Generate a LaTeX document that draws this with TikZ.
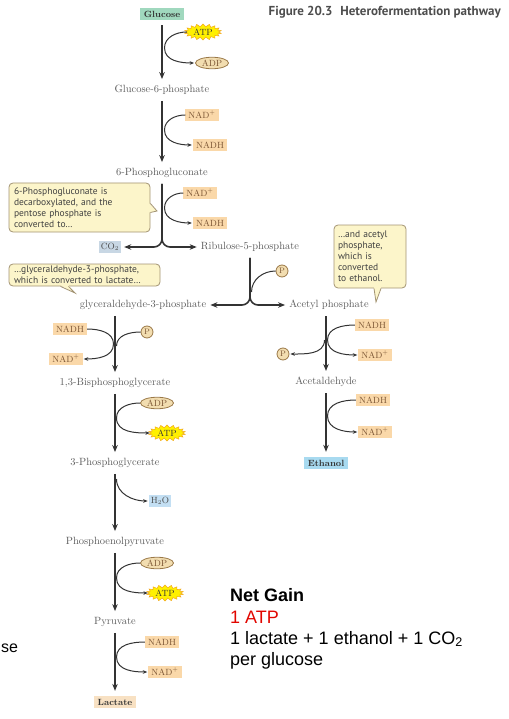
\documentclass[tikz,border=0pt]{standalone}
\usepackage{fontspec}
\newfontfamily\notefont{PT Sans}
\newfontfamily\slidefont{Liberation Sans}
\usetikzlibrary{arrows.meta,shapes.geometric,shapes.symbols}

\definecolor{ink}{HTML}{333333}
\definecolor{metgray}{HTML}{5C5C5C}
\definecolor{peach}{HTML}{FAD8A9}
\definecolor{peachtext}{HTML}{7A5433}
\definecolor{tanfill}{HTML}{F2DDB0}
\definecolor{tanline}{HTML}{9A7847}
\definecolor{atpyellow}{HTML}{FFF000}
\definecolor{atporange}{HTML}{F2A81D}
\definecolor{mint}{HTML}{A0D8BE}
\definecolor{co2blue}{HTML}{C8D7E4}
\definecolor{h2oblue}{HTML}{C3DFF3}
\definecolor{ethblue}{HTML}{A8DAF0}
\definecolor{lactpeach}{HTML}{F8E1C3}
\definecolor{callfill}{HTML}{FCF5CA}
\definecolor{callline}{HTML}{A39473}
\definecolor{titlegray}{HTML}{4D4D4D}
\definecolor{netred}{HTML}{E10600}

\tikzset{
  met/.style={font=\fontsize{10.5}{12}\selectfont, text=metgray, inner sep=1pt},
  endbox/.style={font=\bfseries\fontsize{9}{10}\selectfont, text=black!80, inner xsep=3.5pt, inner ysep=2.8pt},
  cof/.style={fill=peach, text=peachtext, font=\fontsize{9}{10}\selectfont, inner xsep=3pt, inner ysep=2.5pt, text height=6.4pt, text depth=0pt},
  smallbox/.style={text=metgray!80!black, font=\fontsize{9}{10}\selectfont, inner xsep=2pt, inner ysep=2.5pt, text height=6.4pt, text depth=1pt},
  atpstar/.style={starburst, starburst points=18, starburst point height=2.8pt, random starburst=0, fill=atpyellow, draw=atporange, line width=0.5pt, text=black!80, font=\fontsize{9}{10}\selectfont, inner xsep=1.5pt, inner ysep=0.5pt},
  adpoval/.style={ellipse, fill=tanfill, draw=tanline, line width=0.8pt, text=peachtext, font=\fontsize{9}{10}\selectfont, inner sep=0pt, minimum width=33pt, minimum height=11.5pt},
  pgroup/.style={circle, fill=tanfill, draw=tanline, line width=0.8pt, text=peachtext, font=\fontsize{8}{9}\selectfont, inner sep=0pt, minimum size=12pt},
  mainarrow/.style={draw=ink, line width=1.6pt, -{Stealth[length=7pt,width=5.5pt]}, shorten <=5pt, shorten >=5pt},
  splitarrow/.style={draw=ink, line width=1.6pt, -{Stealth[length=7pt,width=5.5pt]}, rounded corners=8pt, shorten <=5pt, shorten >=3pt},
  sideline/.style={draw=ink, line width=1pt},
  sidearrow/.style={draw=ink, line width=1pt, -{Stealth[length=4.5pt,width=3.6pt]}, shorten >=1pt},
  note/.style={draw=callline, line width=0.8pt, fill=callfill, rounded corners=4pt, font=\notefont\fontsize{9.5}{11}\selectfont, text=black!75, align=left, inner xsep=5pt, inner ysep=3pt},
  notetail/.style={draw=callline, line width=0.8pt},
  slide/.style={font=\slidefont\fontsize{18}{21}\selectfont, anchor=base west, inner sep=0pt},
}

\begin{document}
\begin{tikzpicture}[x=1pt,y=-1pt]
\useasboundingbox (0,0) rectangle (508,719);

% heading
\node[anchor=east, font=\notefont\bfseries\fontsize{13}{15}\selectfont, text=titlegray, inner sep=0pt] (title) at (501,12) {Figure 20.3\hspace{0.6em}Heterofermentation pathway};

% main trunk
\node[endbox, fill=mint] (glc) at (162,14) {Glucose};
\node[met] (g6p) at (162,90) {Glucose-6-phosphate};
\node[met] (pg6) at (162,173) {6-Phosphogluconate};
\node[smallbox, fill=co2blue] (co2) at (110,247) {CO\textsubscript{2}};
\node[met] (ru5p) at (250,247) {Ribulose-5-phosphate};
\node[met] (g3p) at (143,305) {glyceraldehyde-3-phosphate};
\node[met] (acp) at (329,305) {Acetyl phosphate};

% lactate branch
\node[met] (bpg) at (115,383) {1,3-Bisphosphoglycerate};
\node[met] (p3g) at (115,463) {3-Phosphoglycerate};
\node[met] (pep) at (115,542) {Phosphoenolpyruvate};
\node[met] (pyr) at (115,622) {Pyruvate};
\node[endbox, fill=lactpeach] (lac) at (115,702) {Lactate};

% ethanol branch
\node[met] (acald) at (326,382) {Acetaldehyde};
\node[endbox, fill=ethblue] (eth) at (326,463) {Ethanol};

% pathway arrows
\draw[mainarrow] (glc) -- (g6p);
\draw[mainarrow] (g6p) -- (pg6);
\draw[splitarrow] (pg6.south) |- (co2.east);
\draw[splitarrow] (pg6.south) |- (ru5p.west);
\draw[splitarrow] (ru5p.south) |- (g3p.east);
\draw[splitarrow] (ru5p.south) |- (acp.west);
\draw[mainarrow] (g3p.south -| bpg.north) -- (bpg);
\draw[mainarrow] (bpg) -- (p3g);
\draw[mainarrow] (p3g) -- (pep);
\draw[mainarrow] (pep) -- (pyr);
\draw[mainarrow] (pyr) -- (lac);
\draw[mainarrow] (acp.south -| acald.north) -- (acald);
\draw[mainarrow] (acald) -- (eth);

% glucose -> glucose-6-phosphate
\node[atpstar] (atp1) at (203,32) {ATP};
\node[adpoval] (adp1) at (212,63) {ADP};
\coordinate (k1) at (164.5,48);
\draw[sidearrow] (atp1.west) to[out=180,in=90] (k1) to[out=-90,in=180] (adp1.west);

% glucose-6-phosphate -> 6-phosphogluconate
\node[cof] (nadp2) at (202,115) {NAD\textsuperscript{+}};
\node[cof] (nadh2) at (210,145) {NADH};
\coordinate (k2) at (164.5,130);
\draw[sidearrow] (nadp2.west) to[out=180,in=90] (k2) to[out=-90,in=180] (nadh2.west);

% 6-phosphogluconate -> ribulose-5-phosphate + CO2
\node[cof] (nadp3) at (200,193) {NAD\textsuperscript{+}};
\node[cof] (nadh3) at (210,223) {NADH};
\coordinate (k3) at (164.5,208);
\draw[sidearrow] (nadp3.west) to[out=180,in=90] (k3) to[out=-90,in=180] (nadh3.west);

% phosphate joining the phosphoketolase split
\node[pgroup] (p1) at (282,271) {P};
\coordinate (k4) at (251.5,292);
\draw[sideline] (p1.west) to[out=180,in=90] (k4);

% glyceraldehyde-3-phosphate -> 1,3-bisphosphoglycerate
\node[cof] (nadh4) at (70,329) {NADH};
\node[cof] (nadp4) at (66,359) {NAD\textsuperscript{+}};
\node[pgroup] (p2) at (147,332) {P};
\coordinate (k5) at (113.5,344);
\coordinate (k6) at (116.5,346);
\draw[sidearrow] (nadh4.east) to[out=0,in=90] (k5) to[out=-90,in=0] (nadp4.east);
\draw[sideline] (p2.west) to[out=180,in=90] (k6);

% 1,3-bisphosphoglycerate -> 3-phosphoglycerate
\node[adpoval] (adp5) at (157,403) {ADP};
\node[atpstar] (atp5) at (167,433) {ATP};
\coordinate (k7) at (116.5,418);
\draw[sidearrow] (adp5.west) to[out=180,in=90] (k7) to[out=-90,in=180] (atp5.west);

% 3-phosphoglycerate -> phosphoenolpyruvate
\node[smallbox, fill=h2oblue] (h2o) at (160,501) {H\textsubscript{2}O};
\coordinate (k8) at (116.5,479);
\draw[sidearrow] (k8) to[out=-90,in=180] (h2o.west);

% phosphoenolpyruvate -> pyruvate
\node[adpoval] (adp6) at (157,563) {ADP};
\node[atpstar] (atp6) at (165,593) {ATP};
\coordinate (k9) at (116.5,578);
\draw[sidearrow] (adp6.west) to[out=180,in=90] (k9) to[out=-90,in=180] (atp6.west);

% pyruvate -> lactate
\node[cof] (nadh7) at (162,642) {NADH};
\node[cof] (nadp7) at (165,672) {NAD\textsuperscript{+}};
\coordinate (k10) at (116.5,657);
\draw[sidearrow] (nadh7.west) to[out=180,in=90] (k10) to[out=-90,in=180] (nadp7.west);

% acetyl phosphate -> acetaldehyde
\node[cof] (nadh8) at (372,325) {NADH};
\node[cof] (nadp8) at (375,355) {NAD\textsuperscript{+}};
\node[pgroup] (p3) at (283,354) {P};
\coordinate (k11) at (327.5,340);
\coordinate (k12) at (324.5,340);
\draw[sidearrow] (nadh8.west) to[out=180,in=90] (k11) to[out=-90,in=180] (nadp8.west);
\draw[sidearrow] (k12) to[out=-90,in=0] (p3.east);

% acetaldehyde -> ethanol
\node[cof] (nadh9) at (373,400) {NADH};
\node[cof] (nadp9) at (375,432) {NAD\textsuperscript{+}};
\coordinate (k13) at (327.5,416);
\draw[sidearrow] (nadh9.west) to[out=180,in=90] (k13) to[out=-90,in=180] (nadp9.west);

% explanatory notes
\node[note, text width=131pt, minimum height=49pt] (cb1) at (79.5,207.5)
  {6-Phosphogluconate is\\decarboxylated, and the\\pentose phosphate is\\converted to…};
\coordinate (cb1tip) at (157,211);
\fill[callfill] ([shift={(-1.2pt,4pt)}]cb1.east) -- (cb1tip) -- ([shift={(-1.2pt,-5pt)}]cb1.east) -- cycle;
\draw[notetail] ([yshift=4pt]cb1.east) -- (cb1tip) -- ([yshift=-5pt]cb1.east);

\node[note, text width=141pt, minimum height=22pt, inner ysep=1pt] (cb2) at (84.5,275)
  {…glyceraldehyde-3-phosphate,\\which is converted to lactate…};
\coordinate (cb2tip) at (75,293);
\fill[callfill] ([shift={(-24pt,1.2pt)}]cb2.south) -- (cb2tip) -- ([shift={(-16pt,1.2pt)}]cb2.south) -- cycle;
\draw[notetail] ([xshift=-24pt]cb2.south) -- (cb2tip) -- ([xshift=-16pt]cb2.south);

\node[note, text width=64pt, minimum height=63pt, inner xsep=4pt] (cb3) at (370,256.5)
  {…and acetyl\\phosphate,\\which is\\converted\\to ethanol.};
\coordinate (cb3tip) at (376,302);
\fill[callfill] ([shift={(4pt,1.2pt)}]cb3.south) -- (cb3tip) -- ([shift={(11pt,1.2pt)}]cb3.south) -- cycle;
\draw[notetail] ([xshift=4pt]cb3.south) -- (cb3tip) -- ([xshift=11pt]cb3.south);

% summary
\node[slide, font=\slidefont\bfseries\fontsize{18}{21}\selectfont] (ng1) at (230,601) {Net Gain};
\node[slide, text=netred] (ng2) at (230,623) {1 ATP};
\node[slide] (ng3) at (230,644) {1 lactate + 1 ethanol + 1 CO\textsubscript{2}};
\node[slide] (ng4) at (230,665) {per glucose};
\node[slide, font=\slidefont\fontsize{16}{19}\selectfont] (cut) at (1,652) {se};
\end{tikzpicture}
\end{document}
